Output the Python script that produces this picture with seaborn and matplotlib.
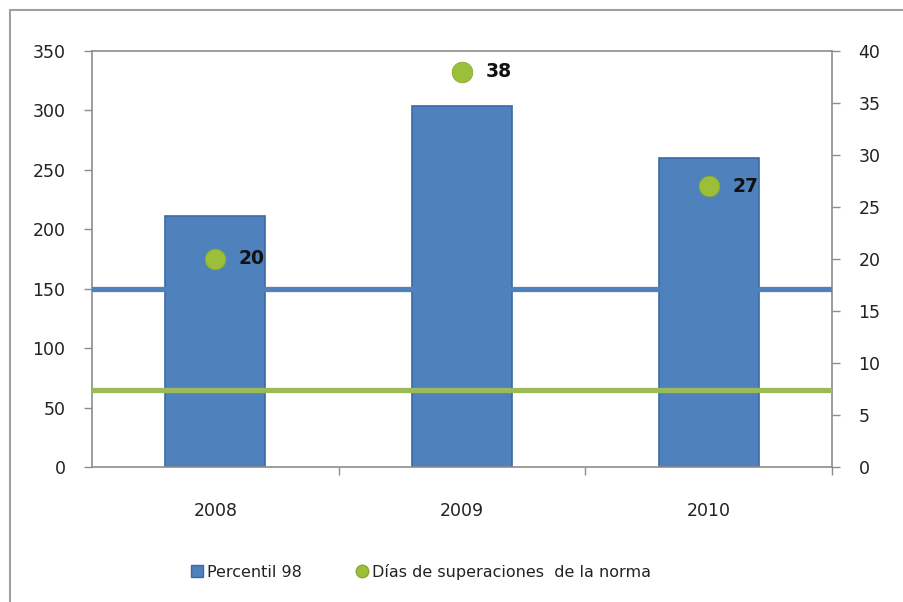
import matplotlib
matplotlib.use("Agg")
import matplotlib.pyplot as plt
import seaborn as sns
import pandas as pd
import numpy as np
from matplotlib.lines import Line2D
from matplotlib.patches import Rectangle

# ---- data ----
years = ["2008", "2009", "2010"]
percentil_98 = [211, 304, 260]
dias_superacion = [20, 38, 27]
norma_percentil = [150]      # left axis reference line
norma_dias_left = [65]       # second reference line (left axis units)
left_ticks = [0, 50, 100, 150, 200, 250, 300, 350]
right_ticks = [0, 5, 10, 15, 20, 25, 30, 35, 40]

BLUE = "#4F81BD"
BLUE_EDGE = "#3B6AA6"
GREEN = "#9BBB59"
GREEN_DOT = "#9CBF3A"

sns.set_theme(style="white")
plt.rcParams["font.family"] = ["DejaVu Sans"]

fig = plt.figure(figsize=(9.04, 6.02), dpi=100)
ax = fig.add_axes([92/904, 1-467/602, (832-92)/904, (467-51)/602])

df = pd.DataFrame({"year": years, "p98": percentil_98, "dias": dias_superacion})

sns.barplot(data=df, x="year", y="p98", ax=ax, color=BLUE, width=0.405,
            edgecolor=BLUE_EDGE, linewidth=1.2, saturation=1, zorder=2)

for v in norma_percentil:
    ax.axhline(v, color=BLUE, lw=3.8, zorder=3)
for v in norma_dias_left:
    ax.axhline(v, color=GREEN, lw=3.8, zorder=3)

ax.set_xlim(-0.5, len(years)-0.5)
ax.set_ylim(left_ticks[0], left_ticks[-1])
ax.set_yticks(left_ticks)
ax.set_xlabel("")
ax.set_ylabel("")
ax.tick_params(axis="y", which="major", direction="out", length=6, width=1,
               color="#8C8C8C", labelsize=12.5, labelcolor="#222222", pad=13, left=True)
ax.tick_params(axis="x", which="major", length=0, labelsize=12.5, labelcolor="#222222", pad=25)
ax.set_xticks(np.arange(len(years)) + 0.5, minor=True)
ax.tick_params(axis="x", which="minor", direction="out", length=6, width=1, color="#8C8C8C", bottom=True)
for s in ["left", "right", "top", "bottom"]:
    ax.spines[s].set_visible(True)
    ax.spines[s].set_color("#8C8C8C")
    ax.spines[s].set_linewidth(1.2)

ax2 = ax.twinx()
sns.scatterplot(data=df, x="year", y="dias", ax=ax2, color=GREEN_DOT, s=220,
                edgecolor="#86A834", linewidth=0.6, zorder=5, legend=False)
ax2.set_ylim(right_ticks[0], right_ticks[-1])
ax2.set_yticks(right_ticks)
ax2.set_ylabel("")
ax2.tick_params(axis="y", direction="out", length=6, width=1, color="#8C8C8C",
                labelsize=12.5, labelcolor="#222222", pad=13, right=True)
for s in ax2.spines.values():
    s.set_visible(False)
ax2.grid(False)
ax.grid(False)

for i, v in enumerate(dias_superacion):
    ax2.annotate(str(v), (i, v), xytext=(17, 0), textcoords="offset points",
                 ha="left", va="center", fontsize=13.5, fontweight="bold", color="#111111")

# outer chart frame (left & top visible)
fig.patches.append(Rectangle((10/904, -0.1), 1.2, 1-10/602+0.1, transform=fig.transFigure,
                             fill=False, edgecolor="#A0A0A0", linewidth=1.5))

handles = [Line2D([0], [0], marker="s", color="none", markerfacecolor=BLUE,
                  markeredgecolor=BLUE_EDGE, markersize=8, label="Percentil 98"),
           Line2D([0], [0], marker="o", color="none", markerfacecolor=GREEN_DOT,
                  markeredgecolor="#86A834", markersize=9, label="Días de superaciones  de la norma")]
fig.legend(handles=handles, loc="center", bbox_to_anchor=(420/904, 1-572/602), ncol=2,
           frameon=False, fontsize=11.5, handletextpad=0.1, columnspacing=3.3,
           handlelength=1.0, labelcolor="#222222")

fig.savefig("out.png", dpi=100)
